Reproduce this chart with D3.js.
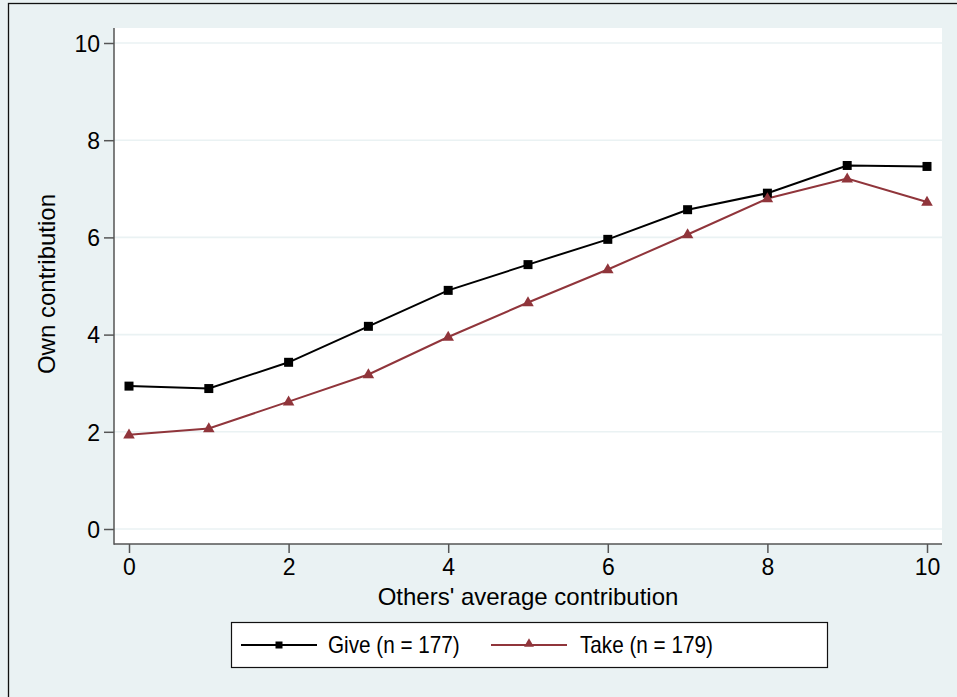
<!DOCTYPE html>
<html>
<head>
<meta charset="utf-8">
<script src="https://cdn.jsdelivr.net/npm/d3@7"></script>
<style>
  body { margin: 0; background: #fff; }
  svg { display: block; font-family: "Liberation Sans", Arial, sans-serif; }
</style>
</head>
<body>
<div id="chart"></div>
<script>
// Data
const othersAvg = [0, 1, 2, 3, 4, 5, 6, 7, 8, 9, 10];
const giveOwn = [2.94, 2.89, 3.43, 4.17, 4.91, 5.44, 5.96, 6.57, 6.91, 7.48, 7.46];
const takeOwn = [1.94, 2.07, 2.62, 3.18, 3.95, 4.66, 5.34, 6.06, 6.80, 7.21, 6.73];
const xTicks = [0, 2, 4, 6, 8, 10];
const yTicks = [0, 2, 4, 6, 8, 10];
const seriesNames = ["Give (n = 177)", "Take (n = 179)"];

const W = 957, H = 697;
const bg = "#EAF2F3";
const takeColor = "#90353B";

const svg = d3.select("#chart")
  .append("svg")
  .attr("width", W)
  .attr("height", H);

// Outer background and frame
svg.append("rect")
  .attr("x", 0).attr("y", 0).attr("width", W).attr("height", H)
  .attr("fill", bg);
svg.append("rect")
  .attr("x", 8.5).attr("y", 3.5).attr("width", W + 20).attr("height", H + 20)
  .attr("fill", "none").attr("stroke", "#111").attr("stroke-width", 1.3);

// Plot region
const plot = { left: 114, right: 942, top: 28, bottom: 544 };
svg.append("rect")
  .attr("x", plot.left).attr("y", plot.top)
  .attr("width", plot.right - plot.left).attr("height", plot.bottom - plot.top)
  .attr("fill", "#fff");

const x = d3.scaleLinear().domain([0, 10]).range([129, 927]);
const y = d3.scaleLinear().domain([0, 10]).range([529, 43]);

// Gridlines
svg.append("g")
  .selectAll("line")
  .data(yTicks)
  .join("line")
    .attr("x1", plot.left).attr("x2", plot.right)
    .attr("y1", d => y(d)).attr("y2", d => y(d))
    .attr("stroke", bg).attr("stroke-width", 1.6);

// Axes
const yAxis = svg.append("g")
  .attr("transform", `translate(${plot.left},0)`)
  .call(d3.axisLeft(y).tickValues(yTicks).tickSize(10).tickPadding(4).tickSizeOuter(0));
const xAxis = svg.append("g")
  .attr("transform", `translate(0,${plot.bottom})`)
  .call(d3.axisBottom(x).tickValues(xTicks).tickSize(9).tickPadding(6).tickSizeOuter(0));

[yAxis, xAxis].forEach(g => {
  g.select(".domain").remove();
  g.attr("font-size", null).attr("font-family", null);
  g.selectAll(".tick line").attr("stroke", "#555").attr("stroke-width", 1.5);
  g.selectAll(".tick text")
    .attr("fill", "#000")
    .style("font-size", "23px");
});
yAxis.selectAll(".tick text").attr("dy", "0.36em");

svg.append("line")
  .attr("x1", plot.left).attr("x2", plot.left)
  .attr("y1", plot.top).attr("y2", plot.bottom + 0.75)
  .attr("stroke", "#555").attr("stroke-width", 1.5);
svg.append("line")
  .attr("x1", plot.left).attr("x2", plot.right)
  .attr("y1", plot.bottom).attr("y2", plot.bottom)
  .attr("stroke", "#555").attr("stroke-width", 1.5);

// Axis titles
svg.append("text")
  .attr("x", 528).attr("y", 605)
  .attr("text-anchor", "middle")
  .style("font-size", "24px")
  .text("Others' average contribution");
svg.append("text")
  .attr("transform", "translate(55,284) rotate(-90)")
  .attr("text-anchor", "middle")
  .style("font-size", "24px")
  .text("Own contribution");

// Lines and markers
const line = d3.line().x((d, i) => x(othersAvg[i])).y(d => y(d));
const square = d3.symbol().type(d3.symbolSquare).size(81);
const triangle = d3.symbol().type(d3.symbolTriangle).size(58);

svg.append("path")
  .datum(giveOwn)
  .attr("d", line)
  .attr("fill", "none").attr("stroke", "#000").attr("stroke-width", 2);
svg.append("path")
  .datum(takeOwn)
  .attr("d", line)
  .attr("fill", "none").attr("stroke", takeColor).attr("stroke-width", 2);

svg.append("g").selectAll("path")
  .data(giveOwn)
  .join("path")
    .attr("d", square)
    .attr("transform", (d, i) => `translate(${x(othersAvg[i])},${y(d)})`)
    .attr("fill", "#000");
svg.append("g").selectAll("path")
  .data(takeOwn)
  .join("path")
    .attr("d", triangle)
    .attr("transform", (d, i) => `translate(${x(othersAvg[i])},${y(d) + 0.5})`)
    .attr("fill", takeColor);

// Legend
const legend = svg.append("g");
legend.append("rect")
  .attr("x", 231.5).attr("y", 622.5).attr("width", 596).attr("height", 45)
  .attr("fill", "#fff").attr("stroke", "#111").attr("stroke-width", 1.2);

const legendItems = [
  { name: seriesNames[0], color: "#000", sym: d3.symbol().type(d3.symbolSquare).size(49), x0: 241, tx: 328, dy: 0 },
  { name: seriesNames[1], color: takeColor, sym: d3.symbol().type(d3.symbolTriangle).size(42), x0: 491, tx: 580, dy: -1 }
];
legendItems.forEach(it => {
  legend.append("line")
    .attr("x1", it.x0).attr("x2", it.x0 + 76)
    .attr("y1", 645).attr("y2", 645)
    .attr("stroke", it.color).attr("stroke-width", 2);
  legend.append("path")
    .attr("d", it.sym())
    .attr("transform", `translate(${it.x0 + 38},${645 + it.dy})`)
    .attr("fill", it.color);
  legend.append("text")
    .attr("transform", `translate(${it.tx},653) scale(0.9,1)`)
    .style("font-size", "23px")
    .text(it.name);
});
</script>
</body>
</html>
